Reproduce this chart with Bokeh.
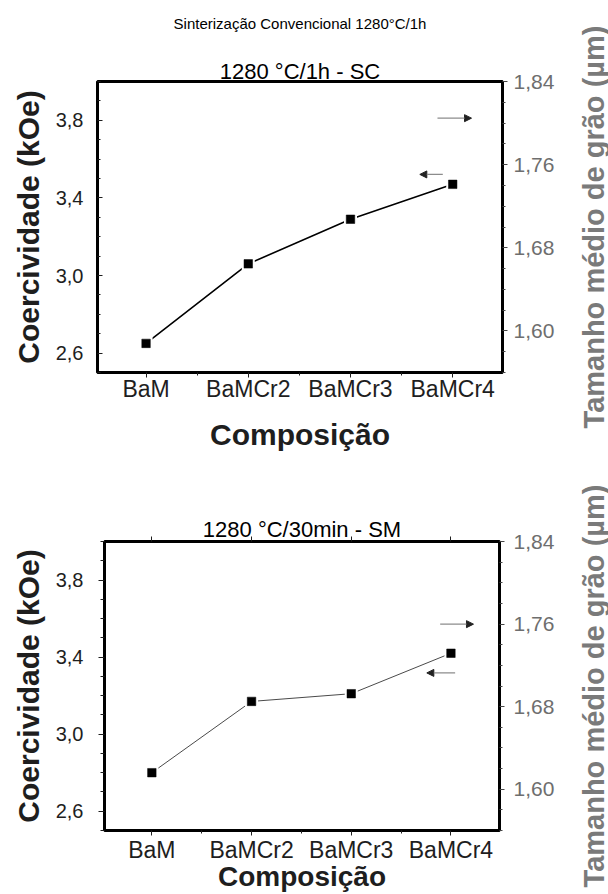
import math
from bokeh.plotting import figure
from bokeh.models import (Range1d, LinearAxis, FixedTicker, CustomJSTickFormatter,
                          Arrow, NormalHead, ColumnDataSource)
from bokeh.layouts import column, row
from bokeh.embed import file_html
from bokeh.resources import INLINE

# ---------------- data ----------------
categories = ["BaM", "BaMCr2", "BaMCr3", "BaMCr4"]
coercivity_sc = [2.65, 3.06, 3.29, 3.47]   # 1280 °C/1h - SC
coercivity_sm = [2.80, 3.17, 3.21, 3.42]   # 1280 °C/30min - SM

left_major = [2.6, 3.0, 3.4, 3.8]
left_minor = [2.5, 2.7, 2.8, 2.9, 3.1, 3.2, 3.3, 3.5, 3.6, 3.7, 3.9, 4.0]
right_major = [1.60, 1.68, 1.76, 1.84]
right_minor = [1.56, 1.58, 1.62, 1.64, 1.66, 1.70, 1.72, 1.74, 1.78, 1.80, 1.82]
x_major = [0, 1, 2, 3]
x_minor = [0.5, 1.5, 2.5]

main_title = "Sinterização Convencional 1280°C/1h"
title_sc = "1280 °C/1h - SC"
title_sm = "1280 °C/30min - SM"
ylabel_left = "Coercividade (kOe)"
ylabel_right = "Tamanho médio de grão (µm)"
xlabel = "Composição"

FONT = "Liberation Sans"
DARK = "#1e1e1e"
GRAY = "#6e6e6e"
LABEL_GRAY = "#7a7a7a"

SIDE_W = 50
MAIN_W = 608 - SIDE_W
X_START, X_END = -0.475, 3.487


def fmt_dec(n):
    return CustomJSTickFormatter(code="return tick.toFixed(%d).replace('.', ',')" % n)


def fmt_cat():
    return CustomJSTickFormatter(
        args=dict(cats=categories),
        code="var i = Math.round(tick); return (Math.abs(tick - i) < 1e-6 && cats[i] !== undefined) ? cats[i] : '';")


def label_axis(text, size, standoff, ticks=None, tick_out=0, bounds="auto"):
    """An 'above' axis used to carry a title text (optionally with ticks)."""
    ax = LinearAxis(ticker=FixedTicker(ticks=ticks or [], minor_ticks=[]),
                    formatter=CustomJSTickFormatter(code="return '';"), bounds=bounds)
    ax.axis_line_color = None
    ax.major_tick_in, ax.major_tick_out = 0, tick_out
    ax.minor_tick_in, ax.minor_tick_out = 0, 0
    ax.major_tick_line_color = DARK
    ax.major_label_text_font_size = "1px"
    ax.major_label_standoff = 0
    ax.axis_label = text
    ax.axis_label_text_font = FONT
    ax.axis_label_text_font_size = size
    ax.axis_label_text_font_style = "normal"
    ax.axis_label_text_color = "black"
    ax.axis_label_standoff = standoff
    return ax


def make_panel(values, height, mb_left, mb_right, mb_top, mb_bottom, ticks_inside,
               left_standoff, right_standoff, below_standoff,
               xlabel_size, xlabel_standoff, line_color, line_width, arrows):
    xs = list(range(len(categories)))
    p = figure(width=MAIN_W, height=height, x_range=Range1d(X_START, X_END),
               y_range=Range1d(2.5, 4.0), output_backend="svg", toolbar_location=None,
               min_border_left=mb_left, min_border_right=mb_right,
               min_border_top=mb_top, min_border_bottom=mb_bottom,
               x_axis_location="below", y_axis_location="left")
    p.xgrid.visible = False
    p.ygrid.visible = False
    p.outline_line_color = "black"
    p.outline_line_width = 3
    p.outline_line_alpha = 1.0
    p.background_fill_color = "white"
    p.border_fill_color = "white"

    # left axis (coercivity)
    ya = p.yaxis[0]
    ya.ticker = FixedTicker(ticks=left_major, minor_ticks=left_minor)
    ya.formatter = fmt_dec(1)
    ya.axis_line_color = None
    if ticks_inside:
        ya.major_tick_in, ya.major_tick_out = 5, 0
        ya.minor_tick_in, ya.minor_tick_out = 3, 0
    else:
        ya.major_tick_in, ya.major_tick_out = 0, 6
        ya.minor_tick_in, ya.minor_tick_out = 0, 4
    ya.major_tick_line_color = DARK
    ya.minor_tick_line_color = DARK
    ya.major_label_text_font = FONT
    ya.major_label_text_font_size = "20px"
    ya.major_label_text_color = DARK
    ya.major_label_standoff = left_standoff
    ya.axis_label = ylabel_left
    ya.axis_label_text_font = FONT
    ya.axis_label_text_font_size = "30px"
    ya.axis_label_text_font_style = "bold"
    ya.axis_label_text_color = DARK
    ya.axis_label_standoff = 8

    # bottom axis (composition)
    xa = p.xaxis[0]
    xa.ticker = FixedTicker(ticks=x_major, minor_ticks=x_minor)
    xa.formatter = fmt_cat()
    xa.axis_line_color = None
    xa.major_tick_in, xa.major_tick_out = 0, 5
    xa.minor_tick_in, xa.minor_tick_out = 0, 3
    xa.major_tick_line_color = DARK
    xa.minor_tick_line_color = DARK
    xa.major_label_text_font = FONT
    xa.major_label_text_font_size = "23px"
    xa.major_label_text_color = DARK
    xa.major_label_standoff = below_standoff
    xa.axis_label = xlabel
    xa.axis_label_text_font = FONT
    xa.axis_label_text_font_size = xlabel_size
    xa.axis_label_text_font_style = "bold"
    xa.axis_label_text_color = DARK
    xa.axis_label_standoff = xlabel_standoff

    # right axis (grain size) - ticks and values
    p.extra_y_ranges = {"grain": Range1d(1.56, 1.84)}
    ra = LinearAxis(y_range_name="grain",
                    ticker=FixedTicker(ticks=right_major, minor_ticks=right_minor),
                    formatter=fmt_dec(2))
    ra.axis_line_color = None
    ra.major_tick_in, ra.major_tick_out = 0, 5
    ra.minor_tick_in, ra.minor_tick_out = 0, 3
    ra.major_tick_line_color = "#444444"
    ra.minor_tick_line_color = "#444444"
    ra.major_label_text_font = FONT
    ra.major_label_text_font_size = "21px"
    ra.major_label_text_color = GRAY
    ra.major_label_standoff = right_standoff
    p.add_layout(ra, "right")

    src = ColumnDataSource(dict(x=xs, y=values))
    p.line("x", "y", source=src, line_color=line_color, line_width=line_width)
    p.scatter("x", "y", source=src, marker="square", size=13,
              fill_color="white", line_color=None)
    p.scatter("x", "y", source=src, marker="square", size=8.5,
              fill_color="black", line_color="black", line_width=0.5)

    for (xs0, ys0, xe0, ye0) in arrows:
        p.add_layout(Arrow(x_start=xs0, y_start=ys0, x_end=xe0, y_end=ye0,
                           line_color="#8c8c8c", line_width=1.3,
                           end=NormalHead(size=7, fill_color="#222222",
                                          line_color="#222222", line_width=1)))
    return p


def side_fig(height, mb_top, mb_bottom):
    """Narrow strip whose left-axis label carries the right-hand axis title (reads upward)."""
    s = figure(width=SIDE_W, height=height, x_range=Range1d(0, 1), y_range=Range1d(0, 1),
               output_backend="svg", toolbar_location=None,
               x_axis_location=None, y_axis_location="left",
               min_border_left=SIDE_W - 1, min_border_right=0,
               min_border_top=mb_top, min_border_bottom=mb_bottom)
    s.xgrid.visible = False
    s.ygrid.visible = False
    s.outline_line_color = None
    s.background_fill_color = "white"
    s.border_fill_color = "white"
    ax = s.yaxis[0]
    ax.ticker = FixedTicker(ticks=[], minor_ticks=[])
    ax.formatter = CustomJSTickFormatter(code="return '';")
    ax.axis_line_color = None
    ax.major_tick_in, ax.major_tick_out = 0, 0
    ax.minor_tick_in, ax.minor_tick_out = 0, 0
    ax.major_label_text_font_size = "1px"
    ax.major_label_standoff = 0
    ax.axis_label = ylabel_right
    ax.axis_label_text_font = FONT
    ax.axis_label_text_font_size = "29px"
    ax.axis_label_text_font_style = "bold"
    ax.axis_label_text_color = LABEL_GRAY
    ax.axis_label_standoff = -2
    return s


arrows_sc = [(2.851, 3.811, 3.184, 3.811), (2.903, 3.521, 2.678, 3.521)]
arrows_sm = [(2.892, 3.571, 3.226, 3.571), (3.042, 3.318, 2.758, 3.318)]

# ---------- upper panel (screen y 0..465) ----------
p1 = make_panel(coercivity_sc, height=465, mb_left=97, mb_right=MAIN_W - 502, mb_top=81,
                mb_bottom=93, ticks_inside=True, left_standoff=14, right_standoff=6,
                below_standoff=-2, xlabel_size="30px", xlabel_standoff=13,
                line_color="black", line_width=1.6, arrows=arrows_sc)
p1.add_layout(label_axis(title_sc, "22px", -2, bounds=(X_START, 3.231)), "above")
p1.add_layout(label_axis(main_title, "15px", 24), "above")
s1 = side_fig(465, 81, 93)

# ---------- lower panel (screen y 465..894) ----------
p2 = make_panel(coercivity_sm, height=429, mb_left=104, mb_right=MAIN_W - 499, mb_top=76,
                mb_bottom=62, ticks_inside=False, left_standoff=15, right_standoff=9,
                below_standoff=1, xlabel_size="28px", xlabel_standoff=-5,
                line_color="#4a4a4a", line_width=1.0, arrows=arrows_sm)
p2.add_layout(label_axis(title_sm, "22px", -5, ticks=x_major, tick_out=5,
                         bounds=(-0.431, X_END)), "above")
s2 = side_fig(429, 76, 62)

layout = column(row(p1, s1, spacing=0), row(p2, s2, spacing=0), spacing=0)

with open("out.html", "w") as f:
    f.write(file_html(layout, INLINE))
